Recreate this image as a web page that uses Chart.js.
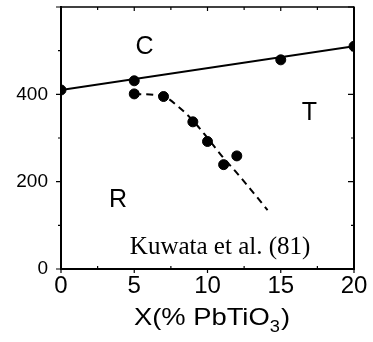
<!DOCTYPE html>
<html>
<head>
<meta charset="utf-8">
<script src="https://cdn.jsdelivr.net/npm/chart.js@4.4.1/dist/chart.umd.min.js"></script>
<style>
  html, body { margin: 0; padding: 0; background: #fff; }
  #wrap { width: 373px; height: 342px; }
</style>
</head>
<body>
<div id="wrap"><canvas id="c" width="373" height="342"></canvas></div>
<script>
// Cubic -> tetragonal transition temperatures (measured)
const cubicX = [0, 5, 15, 20];
const cubicT = [410, 431, 479, 510];
// Straight boundary drawn through the cubic transition
const cubicFitX = [0, 20];
const cubicFitT = [410, 510];
// Rhombohedral -> tetragonal transition temperatures (measured)
const rhombX = [5, 7, 9, 10, 11.1, 12];
const rhombT = [401, 395, 337, 292, 239, 259];
// Hand-drawn dashed R/T phase boundary
const boundaryX = [5, 7, 8, 9, 10, 11, 12, 13, 14.1];
const boundaryT = [401, 395, 372, 340, 300, 258, 220, 180, 135];
// Axis ticks
const xTicks = [0, 5, 10, 15, 20];
const yTicks = [0, 200, 400];
// Phase field labels and source note
const phaseNames = ['C', 'T', 'R'];
const phaseAtX = [5.7, 16.95, 3.9];
const phaseAtT = [509, 357, 158];
const sourceNote = 'Kuwata et al. (81)';

const toPts = (xs, ys) => xs.map((x, i) => ({ x: x, y: ys[i] }));
const SANS = '"Liberation Sans", Arial, Helvetica, sans-serif';
const SERIF = '"Liberation Serif", "Times New Roman", serif';

// Frame on top/right plus tick marks on all four sides
const framePlugin = {
  id: 'frame',
  afterDraw(chart) {
    const { ctx, chartArea: a, scales: { x, y } } = chart;
    ctx.save();
    ctx.strokeStyle = '#000';
    // top and right edges
    ctx.lineWidth = 1.3;
    ctx.beginPath(); ctx.moveTo(a.left, a.top); ctx.lineTo(a.right, a.top); ctx.stroke();
    ctx.lineWidth = 2;
    ctx.beginPath(); ctx.moveTo(a.right, a.top - 0.6); ctx.lineTo(a.right, a.bottom); ctx.stroke();
    ctx.lineWidth = 1.2;
    // x ticks: majors point outward at bottom, minors inward; top ticks inward
    for (let v = 0; v <= 20; v += 2.5) {
      const px = x.getPixelForValue(v);
      const major = v % 5 === 0;
      ctx.beginPath();
      if (major) { ctx.moveTo(px, a.bottom); ctx.lineTo(px, a.bottom + 4); }
      else { ctx.moveTo(px, a.bottom); ctx.lineTo(px, a.bottom - 3); }
      ctx.moveTo(px, a.top); ctx.lineTo(px, a.top + (major ? 4 : 3));
      ctx.stroke();
    }
    // y ticks: outward on the left, inward on the right
    for (let v = 0; v <= 600; v += 100) {
      const py = y.getPixelForValue(v);
      const major = v % 200 === 0;
      const len = major ? 5 : 3;
      ctx.beginPath();
      ctx.moveTo(a.left, py); ctx.lineTo(a.left - len, py);
      ctx.moveTo(a.right, py); ctx.lineTo(a.right - (major ? 6 : 3), py);
      ctx.stroke();
    }
    ctx.restore();
  }
};

// Phase labels, source note and the axis title with subscript
const textPlugin = {
  id: 'texts',
  afterDraw(chart) {
    const { ctx, scales: { x, y } } = chart;
    ctx.save();
    ctx.fillStyle = '#000';
    ctx.textAlign = 'center';
    ctx.textBaseline = 'middle';
    ctx.font = '25px ' + SANS;
    phaseNames.forEach((n, i) => {
      ctx.fillText(n, x.getPixelForValue(phaseAtX[i]), y.getPixelForValue(phaseAtT[i]));
    });
    ctx.font = '25px ' + SERIF;
    ctx.fillText(sourceNote, x.getPixelForValue(10.86), y.getPixelForValue(50));

    // X(% PbTiO3) with subscript 3, slightly widened
    ctx.textAlign = 'left';
    ctx.textBaseline = 'alphabetic';
    const main = 'X(% PbTiO', sub = '3', close = ')';
    const fMain = '24px ' + SANS, fSub = '16px ' + SANS;
    const stretch = 1.14;
    ctx.font = fMain;
    const wMain = ctx.measureText(main).width, wClose = ctx.measureText(close).width;
    ctx.font = fSub;
    const wSub = ctx.measureText(sub).width;
    const total = (wMain + wSub + 1 + wClose) * stretch;
    const base = 325;
    ctx.translate(212 - total / 2, base);
    ctx.scale(stretch, 1);
    let cx = 0;
    ctx.font = fMain; ctx.fillText(main, cx, 0); cx += wMain;
    ctx.font = fSub; ctx.fillText(sub, cx, 7); cx += wSub + 1;
    ctx.font = fMain; ctx.fillText(close, cx, 0);
    ctx.restore();
  }
};

new Chart(document.getElementById('c'), {
  type: 'scatter',
  data: {
    datasets: [
      {
        type: 'line', data: toPts(cubicFitX, cubicFitT),
        borderColor: '#000', borderWidth: 2, pointRadius: 0, fill: false
      },
      {
        type: 'line', data: toPts(boundaryX, boundaryT),
        borderColor: '#000', borderWidth: 2, borderDash: [7, 5],
        pointRadius: 0, fill: false, cubicInterpolationMode: 'monotone'
      },
      {
        data: toPts(cubicX, cubicT),
        backgroundColor: '#000', borderColor: '#000', pointRadius: 5
      },
      {
        data: toPts(rhombX, rhombT),
        backgroundColor: '#000', borderColor: '#000', pointRadius: 5
      }
    ]
  },
  options: {
    responsive: false,
    animation: false,
    events: [],
    layout: { padding: { left: 0, right: 19, top: 7, bottom: 0 } },
    plugins: { legend: { display: false }, tooltip: { enabled: false } },
    scales: {
      x: {
        type: 'linear', min: 0, max: 20,
        grid: { display: false },
        border: { display: true, color: '#000', width: 2 },
        afterFit: s => { s.height = 73; s.paddingLeft = 0; s.paddingRight = 0; },
        afterBuildTicks: s => { s.ticks = xTicks.map(v => ({ value: v })); },
        ticks: {
          color: '#000', padding: -5, maxRotation: 0,
          font: { family: SANS, size: 24 }
        }
      },
      y: {
        type: 'linear', min: 0, max: 600,
        grid: { display: false },
        border: { display: true, color: '#000', width: 2 },
        afterFit: s => { s.width = 61; s.paddingTop = 0; s.paddingBottom = 0; },
        afterBuildTicks: s => { s.ticks = yTicks.map(v => ({ value: v })); },
        ticks: {
          color: '#000', padding: 5,
          font: { family: SANS, size: 19 }
        }
      }
    }
  },
  plugins: [framePlugin, textPlugin]
});
</script>
</body>
</html>
